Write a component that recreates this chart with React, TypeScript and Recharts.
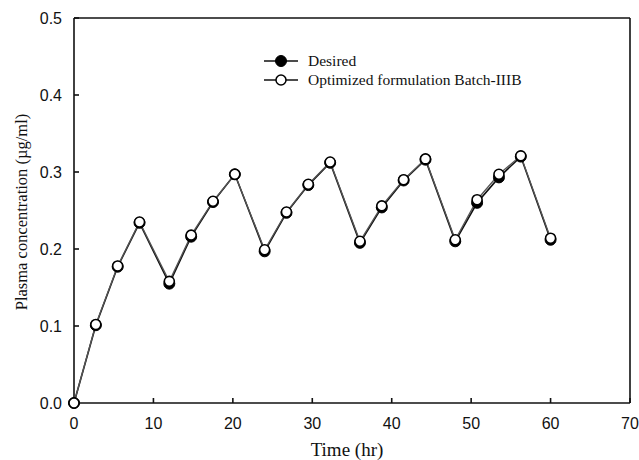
import React from 'react';
import { LineChart, Line, XAxis, YAxis, ReferenceLine } from 'recharts';

// sampling times (hr) and plasma levels (µg/ml)
const times = [0, 2.75, 5.5, 8.25, 12, 14.75, 17.5, 20.25, 24, 26.75, 29.5, 32.25, 36, 38.75, 41.5, 44.25, 48, 50.75, 53.5, 56.25, 60];
const desired = [0, 0.101, 0.177, 0.234, 0.155, 0.216, 0.261, 0.297, 0.197, 0.247, 0.283, 0.312, 0.208, 0.254, 0.289, 0.316, 0.21, 0.26, 0.293, 0.32, 0.212];
const optimized = [0, 0.102, 0.178, 0.235, 0.158, 0.218, 0.262, 0.297, 0.199, 0.248, 0.284, 0.313, 0.21, 0.256, 0.29, 0.317, 0.212, 0.264, 0.297, 0.321, 0.214];

const xTicks = [0, 10, 20, 30, 40, 50, 60, 70];
const yTicks = [0, 0.1, 0.2, 0.3, 0.4, 0.5];

const data = times.map((t, i) => ({ t, desired: desired[i], optimized: optimized[i] }));

const tickFont = { fill: '#111', fontSize: 16, fontFamily: 'Liberation Sans, Arial, sans-serif' };
const serif = 'Liberation Serif, Times New Roman, serif';

// legend + axis titles drawn as an overlay so they don't eat into the plot area
const Overlay = () => (
  <svg width={639} height={460} style={{ position: 'absolute', left: 0, top: 0, pointerEvents: 'none' }}>
    <g transform="translate(262,52)">
      <line x1={2} y1={9} x2={36} y2={9} stroke="#111" strokeWidth={1.4} />
      <circle cx={19} cy={9} r={5.5} fill="#000" stroke="#000" />
      <text x={46} y={14} fontSize={15.5} fontFamily={serif} fill="#111">Desired</text>
      <line x1={2} y1={28} x2={36} y2={28} stroke="#111" strokeWidth={1.4} />
      <circle cx={19} cy={28} r={5} fill="#fff" stroke="#000" strokeWidth={1.5} />
      <text x={46} y={33} fontSize={15.5} fontFamily={serif} fill="#111">Optimized formulation Batch-IIIB</text>
    </g>
    <text x={347} y={456} textAnchor="middle" fontSize={19} fontFamily={serif} fill="#111">Time (hr)</text>
    <text
      x={0}
      y={0}
      transform="translate(27,212) rotate(-90)"
      textAnchor="middle"
      fontSize={16.5}
      fontFamily={serif}
      fill="#111"
    >
      Plasma concentration (µg/ml)
    </text>
  </svg>
);

export default function App() {
  return (
    <div style={{ position: 'absolute', left: 0, top: 0, width: 639, height: 460, background: '#fff' }}>
      <LineChart width={639} height={460} data={data} margin={{ top: 18, right: 9, bottom: 17, left: 14 }}>
        <XAxis
          dataKey="t"
          type="number"
          domain={[0, 70]}
          ticks={xTicks}
          tick={tickFont}
          tickSize={-5}
          tickMargin={20}
          stroke="#111"
          strokeWidth={1.6}
          height={40}
        />
        <YAxis
          type="number"
          domain={[0, 0.5]}
          ticks={yTicks}
          tickFormatter={(v: number) => v.toFixed(1)}
          tick={tickFont}
          tickSize={-5}
          tickMargin={17}
          stroke="#111"
          strokeWidth={1.6}
          width={60}
        />
        <ReferenceLine y={0.5} stroke="#111" strokeWidth={1.6} />
        <ReferenceLine x={70} stroke="#111" strokeWidth={1.6} />
        <Line
          dataKey="desired"
          stroke="#111"
          strokeWidth={1.6}
          dot={{ r: 5.5, fill: '#000', stroke: '#000', strokeWidth: 1 }}
          isAnimationActive={false}
        />
        <Line
          dataKey="optimized"
          stroke="#555"
          strokeWidth={1.3}
          dot={{ r: 5, fill: '#fff', stroke: '#000', strokeWidth: 1.6 }}
          isAnimationActive={false}
        />
      </LineChart>
      <Overlay />
    </div>
  );
}
